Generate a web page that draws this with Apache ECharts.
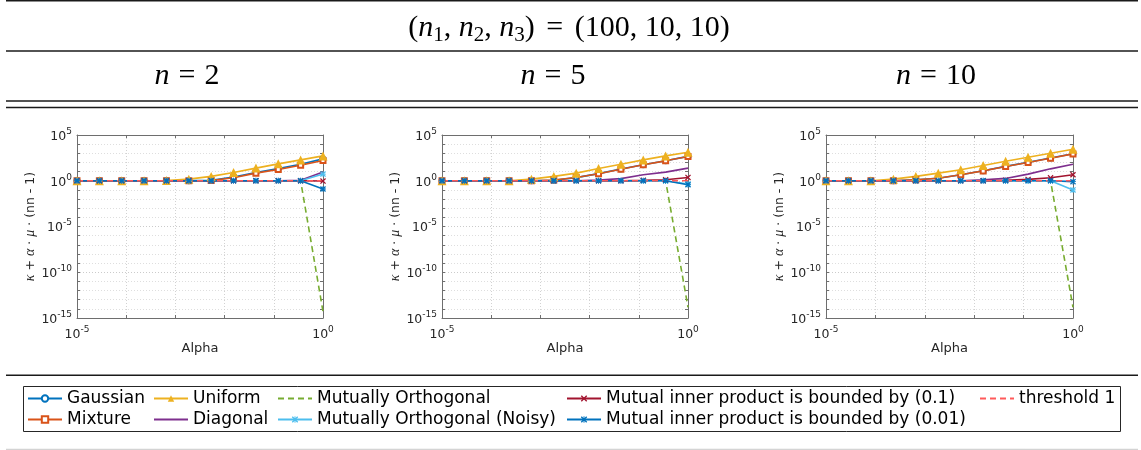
<!DOCTYPE html>
<html><head><meta charset="utf-8">
<script src="https://cdn.jsdelivr.net/npm/echarts@6/dist/echarts.min.js"></script>
<style>html,body{margin:0;padding:0;background:#fff}#c{width:1141px;height:450px}</style>
</head><body><div id="c"></div>
<script>
// ---- data ----
const alpha = [1e-5, 2.848e-5, 8.111e-5, 2.310e-4, 6.579e-4, 1.874e-3, 5.337e-3, 1.520e-2, 4.329e-2, 1.233e-1, 3.511e-1, 1];
const panelN = ['2', '5', '10'];
const xTickLabels = [1e-5, 1];
const yTickLabels = [1e-15, 1e-10, 1e-5, 1, 1e5];

const gaussian = [
  [1, 1, 1, 1, 1, 1.02, 1.1, 2.5, 8, 22, 65, 245],
  [1, 1, 1, 1, 1, 1.15, 2.2, 6, 19, 57, 155, 460],
  [1, 1, 1, 1, 1.3, 1.9, 4.6, 12.5, 37, 105, 300, 900]
];
const mixture = [
  [1, 1, 1, 1, 1, 1.01, 1.05, 2.1, 6.8, 17, 50, 160],
  [1, 1, 1, 1, 1, 1.2, 2.3, 5.8, 18, 55, 150, 440],
  [1, 1, 1, 1, 1.3, 1.9, 4.5, 12, 36, 100, 290, 860]
];
const uniform = [
  [1, 1, 1, 1, 1.05, 1.5, 3, 8, 24, 70, 190, 520],
  [1, 1, 1, 1, 1.5, 3, 6.8, 22, 65, 190, 520, 1300],
  [1, 1, 1, 1.5, 3, 6.8, 16, 46, 138, 370, 1000, 2760]
];
const diagonal = [
  [1, 1, 1, 1, 1, 1, 1, 1, 1, 1, 1.1, 9],
  [1, 1, 1, 1, 1, 1, 1, 1.2, 1.7, 4.5, 8.7, 24],
  [1, 1, 1, 1, 1, 1, 1, 1.3, 1.8, 5.3, 20, 65]
];
const mutOrth = [
  [1, 1, 1, 1, 1, 1, 1, 1, 1, 1, 1, 5e-15],
  [1, 1, 1, 1, 1, 1, 1, 1, 1, 1, 1, 1.5e-14],
  [1, 1, 1, 1, 1, 1, 1, 1, 1, 1, 1, 1.5e-14]
];
const mutOrthNoisy = [
  [1, 1, 1, 1, 1, 1, 1, 1, 1, 1, 1, 5.4],
  [1, 1, 1, 1, 1, 1, 1, 1, 1, 1, 1, 0.45],
  [1, 1, 1, 1, 1, 1, 1, 1, 1, 1, 1, 0.1]
];
const bounded01 = [
  [1, 1, 1, 1, 1, 1, 1, 1, 1, 1, 1, 0.93],
  [1, 1, 1, 1, 1, 1, 1, 1, 1, 1.1, 1.3, 2.3],
  [1, 1, 1, 1, 1, 1, 1, 1, 1.1, 1.4, 2.1, 4.5]
];
const bounded001 = [
  [1, 1, 1, 1, 1, 1, 1, 1, 1, 1, 1, 0.125],
  [1, 1, 1, 1, 1, 1, 1, 1, 1, 1, 1, 0.37],
  [1, 1, 1, 1, 1, 1, 1, 1, 1, 1, 1, 0.8]
];
const threshold = [1, 1, 1, 1, 1, 1, 1, 1, 1, 1, 1, 1];

// ---- styles ----
const symX = 'path://M0,1.5L1.5,0L5,3.5L8.5,0L10,1.5L6.5,5L10,8.5L8.5,10L5,6.5L1.5,10L0,8.5L3.5,5Z';
const symStar = 'path://M0,1.5L1.5,0L5,3.5L8.5,0L10,1.5L6.5,5L10,8.5L8.5,10L5,6.5L1.5,10L0,8.5L3.5,5Z M4.3,0H5.7V10H4.3Z M0,4.3H10V5.7H0Z';
const specs = [
  {name: 'Gaussian', data: gaussian, color: '#0072BD', symbol: 'emptyCircle', size: 5},
  {name: 'Mixture', data: mixture, color: '#D95319', symbol: 'emptyRect', size: 5},
  {name: 'Uniform', data: uniform, color: '#EDB120', symbol: 'triangle', size: 9},
  {name: 'Diagonal', data: diagonal, color: '#7E2F8E', symbol: 'none', size: 0},
  {name: 'Mutually Orthogonal', data: mutOrth, color: '#77AC30', symbol: 'none', size: 0, dash: true},
  {name: 'Mutually Orthogonal (Noisy)', data: mutOrthNoisy, color: '#4DBEEE', symbol: symStar, size: 6},
  {name: 'Mutual inner product is bounded by (0.1)', data: bounded01, color: '#A2142F', symbol: symX, size: 6},
  {name: 'Mutual inner product is bounded by (0.01)', data: bounded001, color: '#0072BD', symbol: symStar, size: 6},
  {name: 'threshold 1', data: [threshold, threshold, threshold], color: '#FF5A5A', symbol: 'none', size: 0, dash: true}
];
const legendCols = [
  ['Gaussian', 'Mixture'],
  ['Uniform', 'Diagonal'],
  ['Mutually Orthogonal', 'Mutually Orthogonal (Noisy)'],
  ['Mutual inner product is bounded by (0.1)', 'Mutual inner product is bounded by (0.01)'],
  ['threshold 1']
];
const legendX = [27, 153, 277, 566, 979];
const grids = [
  {left: 77, top: 135, width: 246, height: 183},
  {left: 442, top: 135, width: 246, height: 183},
  {left: 826, top: 135, width: 247, height: 183}
];
const colCenters = [187, 553, 936];

const axisCol = '#6e6e6e';
const txtCol = '#262626';
const sans = 'DejaVu Sans';
const supRich = {
  b: {fontFamily: sans, fontSize: 12.5, color: txtCol, lineHeight: 16, verticalAlign: 'bottom'},
  s: {fontFamily: sans, fontSize: 9, color: txtCol, lineHeight: 10, verticalAlign: 'top'}
};
function isIn(v, arr) { return arr.some(t => Math.abs(Math.log10(v) - Math.log10(t)) < 1e-6); }
function fmt(arr) {
  return function (v) {
    if (!isIn(v, arr)) return '';
    const e = Math.round(Math.log10(v));
    return '{b|10}{s|' + e + '}';
  };
}

const xAxis = [], yAxis = [], series = [];
grids.forEach((g, i) => {
  xAxis.push({
    type: 'log', logBase: 10, gridIndex: i, position: 'bottom', min: 1e-5, max: 1, interval: 1,
    name: 'Alpha', nameLocation: 'middle', nameGap: 24,
    nameTextStyle: {fontFamily: sans, fontSize: 13, color: txtCol, verticalAlign: 'top'},
    axisLine: {show: true, lineStyle: {color: axisCol, width: 1}},
    axisTick: {show: true, inside: true, length: 3, lineStyle: {color: axisCol}},
    axisLabel: {show: true, margin: 7, formatter: fmt(xTickLabels), rich: supRich, showMinLabel: true, showMaxLabel: true},
    splitLine: {show: true, lineStyle: {color: '#d2d2d2', type: [1, 2], width: 1}}
  });
  xAxis.push({
    type: 'log', logBase: 10, gridIndex: i, position: 'top', min: 1e-5, max: 1, interval: 1,
    axisLine: {show: true, lineStyle: {color: axisCol, width: 1}},
    axisTick: {show: true, inside: true, length: 3, lineStyle: {color: axisCol}},
    axisLabel: {show: false}, splitLine: {show: false}
  });
  yAxis.push({
    type: 'log', logBase: 10, gridIndex: i, position: 'left', min: 1e-15, max: 1e5, interval: 1,
    name: '{g|κ} + {g|α} · {g|μ} · (nn - 1)', nameLocation: 'middle', nameGap: 39, nameRotate: 90,
    nameTextStyle: {fontFamily: sans, fontSize: 12.5, color: txtCol,
      rich: {g: {fontFamily: 'Liberation Serif', fontStyle: 'italic', fontSize: 14, color: txtCol}}},
    axisLine: {show: true, lineStyle: {color: axisCol, width: 1}},
    axisTick: {show: true, inside: true, length: 3, lineStyle: {color: axisCol}},
    axisLabel: {show: true, margin: 5, formatter: fmt(yTickLabels), rich: supRich, showMinLabel: true, showMaxLabel: true},
    splitLine: {show: true, lineStyle: {color: ['#cbcbcb', '#dedede', '#dedede', '#dedede', '#dedede'], type: [1, 2], width: 1}}
  });
  yAxis.push({
    type: 'log', logBase: 10, gridIndex: i, position: 'right', min: 1e-15, max: 1e5, interval: 1,
    axisLine: {show: true, lineStyle: {color: axisCol, width: 1}},
    axisTick: {show: true, inside: true, length: 3, lineStyle: {color: axisCol}},
    axisLabel: {show: false}, splitLine: {show: false}
  });
  specs.forEach((s) => {
    const hasSym = s.symbol !== 'none';
    series.push({
      type: 'line', name: s.name, xAxisIndex: 2 * i, yAxisIndex: 2 * i,
      data: alpha.map((a, k) => [a, s.data[i][k]]),
      symbol: s.symbol, symbolSize: s.size, showSymbol: hasSym,
      lineStyle: {color: s.color, width: 1.6, type: s.dash ? [6, 4] : 'solid'},
      itemStyle: {color: s.color, borderWidth: s.symbol.indexOf('empty') === 0 ? 1.8 : 0},
      emphasis: {disabled: true}, silent: true
    });
  });
});

const mathRich = {
  a: {fontFamily: 'Liberation Serif', fontSize: 30, fill: '#000', lineHeight: 36},
  i: {fontFamily: 'Liberation Serif', fontStyle: 'italic', fontSize: 30, fill: '#000', lineHeight: 36},
  e: {fontFamily: 'Liberation Serif', fontSize: 30, fill: '#000', lineHeight: 36, padding: [0, 4, 0, 4]},
  w: {fontFamily: 'Liberation Serif', fontSize: 30, fill: '#000', lineHeight: 36, padding: [0, 9, 0, 9]},
  s: {fontFamily: 'Liberation Serif', fontSize: 21, fill: '#000', lineHeight: 20, verticalAlign: 'bottom'}
};
const graphic = [];
function rule(y, w, c) {
  graphic.push({type: 'line', shape: {x1: 6, y1: y, x2: 1138, y2: y}, style: {stroke: c || '#1a1a1a', lineWidth: w}, silent: true});
}
rule(0.75, 1.5); rule(51, 1.6); rule(101, 1.3); rule(107.5, 1.3); rule(375.3, 1.6); rule(449.3, 1, '#c8c8c8');
graphic.push({type: 'text', x: 569, y: 28, silent: true, style: {
  text: '{a|(}{i|n}{s|1}{a|, }{i|n}{s|2}{a|, }{i|n}{s|3}{a|) }{e|=}{a| (100, 10, 10)}',
  rich: mathRich, align: 'center', verticalAlign: 'middle'}});
panelN.forEach((n, i) => {
  graphic.push({type: 'text', x: colCenters[i], y: 76, silent: true, style: {
    text: '{i|n}{w|=}{a|' + n + '}', rich: mathRich, align: 'center', verticalAlign: 'middle'}});
});
graphic.push({type: 'rect', shape: {x: 23.5, y: 386.5, width: 1097, height: 45}, style: {fill: 'none', stroke: '#262626', lineWidth: 1}, silent: true});

const noMarker = specs.filter(s => s.symbol === 'none').map(s => s.name);
const legend = legendCols.map((col, j) => ({
  orient: 'vertical', left: legendX[j], top: 390, padding: 0, itemWidth: 34, itemHeight: 8, itemGap: 4,
  data: col.map(nm => noMarker.indexOf(nm) >= 0 ? {name: nm, itemStyle: {opacity: 0}} : {name: nm}),
  selectedMode: false,
  textStyle: {fontFamily: sans, fontSize: 17, color: '#000', lineHeight: 17}
}));

const chart = echarts.init(document.getElementById('c'), null, {renderer: 'canvas'});
chart.setOption({animation: false, backgroundColor: '#fff', grid: grids, xAxis, yAxis, series, legend, graphic});
</script></body></html>
